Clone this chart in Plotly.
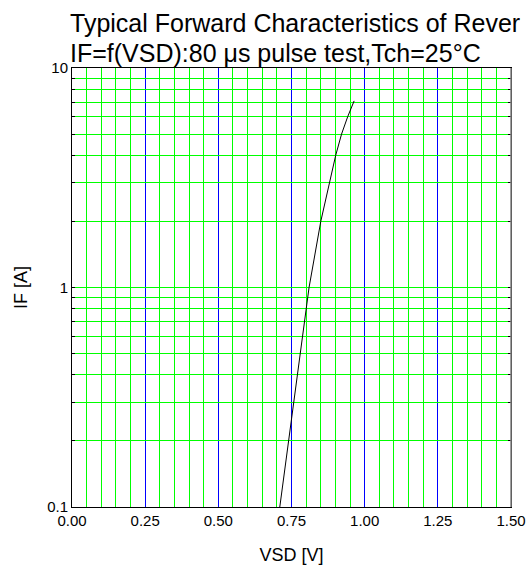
import plotly.graph_objects as go

vsd = [0.710, 0.740, 0.758, 0.768, 0.778, 0.787, 0.800, 0.810, 0.850, 0.881, 0.901, 0.921, 0.942, 0.964]
i_f = [0.10, 0.20, 0.30, 0.40, 0.50, 0.60, 0.80, 1.00, 2.00, 3.00, 4.00, 5.00, 6.00, 7.08]

x_range = [0, 1.5]
x_major = 0.25
x_minor = 0.05
y_ticks = [0.1, 0.2, 0.3, 0.4, 0.5, 0.6, 0.7, 0.8, 0.9,
           1, 2, 3, 4, 5, 6, 7, 8, 9, 10]
y_labels = {0.1: "0.1", 1: "1", 10: "10"}

title1 = "Typical Forward Characteristics of Rever"
title2 = "IF=f(VSD):80 \u03bcs pulse test,Tch=25\u00b0C"

FONT = "Liberation Sans, Arial, sans-serif"

fig = go.Figure()
fig.add_trace(go.Scatter(x=vsd, y=i_f, mode="lines",
                         line=dict(color="black", width=1), showlegend=False))

fig.update_layout(
    width=531, height=568,
    margin=dict(l=72, r=20, t=68, b=61),
    paper_bgcolor="white", plot_bgcolor="white",
    font=dict(family=FONT, color="black"),
    showlegend=False,
)

fig.update_xaxes(
    range=x_range, dtick=x_major, tick0=0, tickformat=".2f",
    showgrid=True, gridcolor="#0000ff", gridwidth=1,
    showline=True, linecolor="black", linewidth=1, mirror=True,
    ticks="", zeroline=False, automargin=False,
    tickfont=dict(size=15, family=FONT),
    title=dict(text="VSD [V]", font=dict(size=18, family=FONT), standoff=20),
    minor=dict(dtick=x_minor, tick0=0, showgrid=True, gridcolor="#00ff00", gridwidth=1, ticks=""),
)

fig.update_yaxes(
    type="log", range=[-1, 1],
    tickmode="array", tickvals=y_ticks,
    ticktext=[y_labels.get(v, "") for v in y_ticks],
    showgrid=True, gridcolor="#00ff00", gridwidth=1,
    showline=True, linecolor="black", linewidth=1, mirror="allticks",
    ticks="inside", ticklen=3, tickcolor="black", zeroline=False, automargin=False,
    tickfont=dict(size=15, family=FONT),
    title=dict(text="IF [A]", font=dict(size=18, family=FONT), standoff=14),
)

# blue major gridline at the 1 A decade
fig.add_shape(type="line", xref="paper", yref="y", x0=0, x1=1, y0=1, y1=1,
              line=dict(color="#0000ff", width=1), layer="below")

# right border in grey
fig.add_shape(type="line", xref="paper", yref="paper", x0=1, x1=1, y0=0, y1=1,
              line=dict(color="#808080", width=1.5), layer="above")

fig.add_annotation(text=title1, xref="paper", yref="paper", x=0, y=1,
                   xanchor="left", yanchor="bottom", xshift=-4, yshift=29,
                   showarrow=False, font=dict(size=25, family=FONT, color="black"))
fig.add_annotation(text=title2, xref="paper", yref="paper", x=0, y=1,
                   xanchor="left", yanchor="bottom", xshift=-4, yshift=-1,
                   showarrow=False, font=dict(size=25, family=FONT, color="black"))

fig.write_html("out.html", config={"displayModeBar": False},
               post_script="document.body.style.margin='0';document.body.style.overflow='hidden';")
